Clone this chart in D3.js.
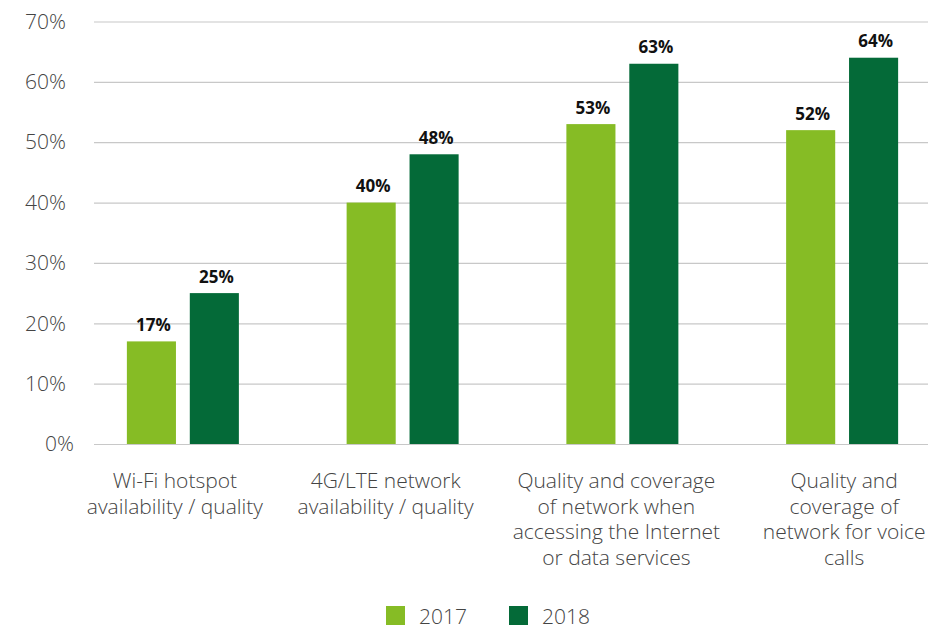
<!DOCTYPE html>
<html>
<head>
<meta charset="utf-8">
<script src="https://cdn.jsdelivr.net/npm/d3@7"></script>
<style>
  html, body { margin: 0; padding: 0; background: #fff; }
  svg { display: block; font-family: "Open Sans", "Noto Sans", sans-serif; }
  .light { font-weight: 300; }
</style>
</head>
<body>
<svg id="chart" width="928" height="630"></svg>
<script>
// Categories (each entry is a list of label lines)
const categories = [
  ["Wi-Fi hotspot", "availability / quality"],
  ["4G/LTE network", "availability / quality"],
  ["Quality and coverage", "of network when", "accessing the Internet", "or data services"],
  ["Quality and", "coverage of", "network for voice", "calls"]
];
const seriesNames = ["2017", "2018"];
const values2017 = [17, 40, 53, 52];
const values2018 = [25, 48, 63, 64];
const yTicks = [0, 10, 20, 30, 40, 50, 60, 70];

const colors = ["#86BC25", "#046A38"];
const series = [values2017, values2018];

const svg = d3.select("#chart");

// Layout
const gridLeft = 94, gridRight = 928;
const labelSize = 21;
const y = d3.scaleLinear().domain([0, 70]).range([444, 21.5]);

const x0 = d3.scaleBand()
  .domain(d3.range(categories.length))
  .range([73, 952])
  .paddingInner(0)
  .paddingOuter(0);

const x1 = d3.scaleBand()
  .domain(d3.range(seriesNames.length))
  .range([x0.bandwidth() / 2 - 56, x0.bandwidth() / 2 + 56])
  .paddingInner(0.22)
  .paddingOuter(0);

// Gridlines and y tick labels
const yAxis = d3.axisLeft(y)
  .tickValues(yTicks)
  .tickSize(-(gridRight - gridLeft))
  .tickPadding(28)
  .tickFormat(d => d + "%");

const gAxis = svg.append("g")
  .attr("transform", `translate(${gridLeft},0)`)
  .call(yAxis);
gAxis.select(".domain").remove();
gAxis.selectAll(".tick line")
  .attr("stroke", "#c8c8c8")
  .attr("stroke-width", 1.2);
gAxis.selectAll(".tick text")
  .attr("class", "light")
  .attr("fill", "#444")
  .attr("font-size", labelSize)
  .attr("font-family", "'Open Sans', sans-serif")
  .attr("dx", d => d === 0 ? 8 : 0);

// Bars
const groups = svg.append("g")
  .selectAll("g")
  .data(categories)
  .join("g")
  .attr("transform", (d, i) => `translate(${x0(i)},0)`);

groups.selectAll("rect")
  .data((d, i) => series.map((s, k) => ({ k, v: s[i] })))
  .join("rect")
  .attr("x", d => x1(d.k))
  .attr("width", x1.bandwidth())
  .attr("y", d => y(d.v))
  .attr("height", d => y(0) - y(d.v))
  .attr("fill", d => colors[d.k]);

// Value labels
groups.selectAll("text.val")
  .data((d, i) => series.map((s, k) => ({ k, v: s[i] })))
  .join("text")
  .attr("class", "val")
  .attr("x", d => x1(d.k) + x1.bandwidth() / 2 + 2)
  .attr("y", d => y(d.v) - 10.5)
  .attr("text-anchor", "middle")
  .attr("font-size", 17)
  .attr("font-weight", 700)
  .attr("fill", "#111")
  .text(d => d.v + "%");

// Category labels
const labelShift = [-8, -17, -6, 2];
const catLabels = svg.append("g")
  .selectAll("text")
  .data(categories)
  .join("text")
  .attr("class", "light")
  .attr("x", (d, i) => x0(i) + x0.bandwidth() / 2 + labelShift[i])
  .attr("y", 488)
  .attr("text-anchor", "middle")
  .attr("font-size", labelSize)
  .attr("fill", "#444");
catLabels.selectAll("tspan")
  .data(d => d)
  .join("tspan")
  .attr("x", function () { return d3.select(this.parentNode).attr("x"); })
  .attr("dy", (d, i) => i === 0 ? 0 : 25.5)
  .text(d => d);

// Legend
const legendX = [386, 509];
const legend = svg.append("g")
  .selectAll("g")
  .data(seriesNames)
  .join("g")
  .attr("transform", (d, i) => `translate(${legendX[i]},606)`);
legend.append("rect")
  .attr("width", 19)
  .attr("height", 19)
  .attr("fill", (d, i) => colors[i]);
legend.append("text")
  .attr("class", "light")
  .attr("x", 33)
  .attr("y", 18)
  .attr("font-size", labelSize)
  .attr("fill", "#444")
  .text(d => d);
</script>
</body>
</html>
